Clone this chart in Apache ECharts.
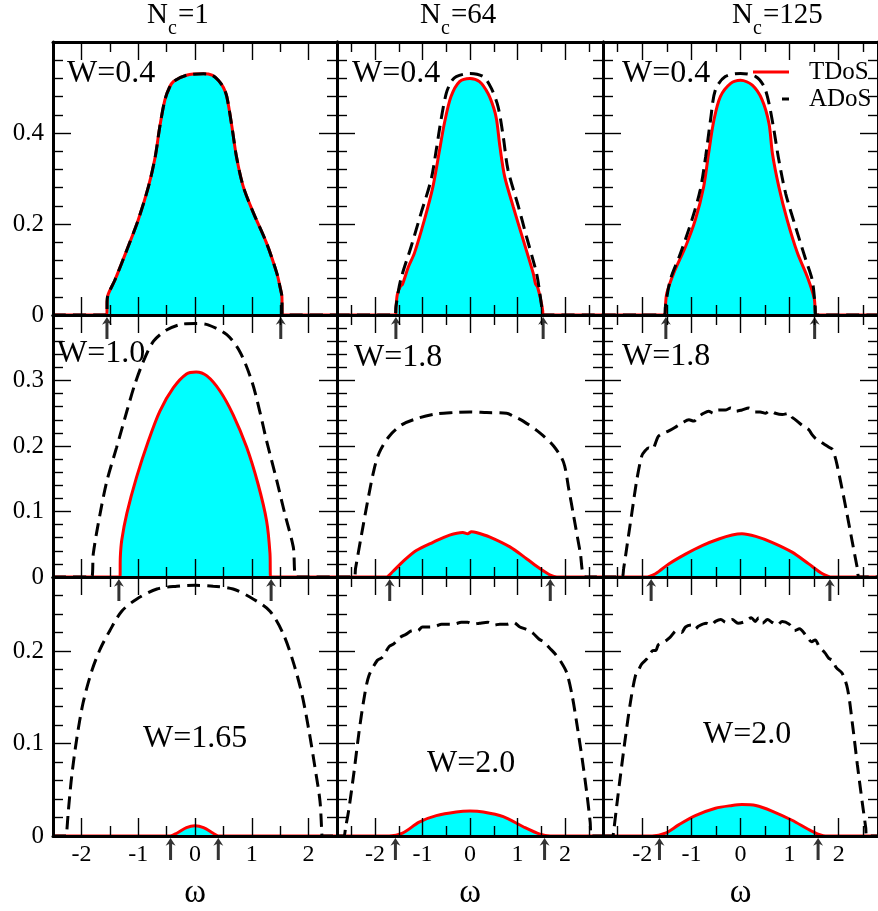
<!DOCTYPE html>
<html><head><meta charset="utf-8">
<script src="https://cdn.jsdelivr.net/npm/echarts@6/dist/echarts.min.js"></script>
<style>html,body{margin:0;padding:0;background:#fff}#c{width:878px;height:911px}</style>
</head><body><div id="c"></div>
<script>
// ---------- DATA ----------
const columnTitles = ['1', '64', '125'];          // N_c values
const disorderLabels = [['W=0.4','W=0.4','W=0.4'],['W=1.0','W=1.8','W=1.8'],['W=1.65','W=2.0','W=2.0']];

const xMajorTicks = [-2, -1, 0, 1, 2];
const xMinorTicks = [-2.5, -1.5, -0.5, 0.5, 1.5, 2.5];
const xTickLabels = [-2, -1, 0, 1, 2];

const yMajorRow1 = [0.2, 0.4];
const yMinorRow1 = [0.04, 0.08, 0.12, 0.16, 0.24, 0.28, 0.32, 0.36, 0.44, 0.48, 0.52, 0.56];
const yLabelsRow1 = [0, 0.2, 0.4];
const yMajorRow2 = [0.1, 0.2, 0.3];
const yMinorRow2 = [0.02,0.04,0.06,0.08,0.12,0.14,0.16,0.18,0.22,0.24,0.26,0.28,0.32,0.34,0.36,0.38];
const yLabelsRow2 = [0, 0.1, 0.2, 0.3];
const yMajorRow3 = [0.1, 0.2];
const yMinorRow3 = [0.02,0.04,0.06,0.08,0.12,0.14,0.16,0.18,0.22,0.24,0.26];
const yLabelsRow3 = [0, 0.1, 0.2];

// mobility edges (arrows)
const edgesRow1 = [[-1.55, 1.51], [-1.56, 1.54], [-1.52, 1.51]];
const edgesRow2 = [[-1.34, 1.34], [-1.69, 1.69], [-1.82, 1.82]];
const edgesRow3 = [[-0.43, 0.41], [-1.57, 1.57], [-1.65, 1.58]];

// typical DoS (red, filled)
const tdos_r1c1 = [[-2.5,0],[-1.55,0],[-1.548,0.03],[-1.53,0.045],[-1.41,0.077],[-1.20,0.143],[-1.00,0.209],[-0.82,0.282],[-0.70,0.348],[-0.62,0.414],[-0.53,0.473],[-0.45,0.50],[-0.38,0.513],[-0.15,0.527],[0.15,0.53],[0.30,0.527],[0.41,0.516],[0.50,0.50],[0.56,0.48],[0.65,0.414],[0.73,0.348],[0.85,0.282],[1.03,0.224],[1.26,0.158],[1.44,0.092],[1.50,0.06],[1.53,0.04],[1.535,0],[2.5,0]];
const ados_r1c1 = tdos_r1c1;
const tdos_r1c2 = [[-2.8,0],[-1.56,0],[-1.555,0.02],[-1.53,0.045],[-1.47,0.062],[-1.42,0.068],[-1.30,0.105],[-1.17,0.136],[-0.96,0.209],[-0.78,0.282],[-0.64,0.363],[-0.54,0.421],[-0.40,0.480],[-0.22,0.513],[0,0.520],[0.20,0.513],[0.38,0.487],[0.50,0.455],[0.56,0.429],[0.63,0.37],[0.73,0.304],[0.91,0.238],[1.12,0.165],[1.33,0.092],[1.38,0.068],[1.42,0.062],[1.49,0.033],[1.53,0.01],[1.535,0],[2.8,0]];
const ados_r1c2 = [[-2.8,0],[-1.58,0],[-1.56,0.018],[-1.46,0.077],[-1.24,0.150],[-1.03,0.224],[-0.82,0.297],[-0.71,0.363],[-0.61,0.429],[-0.50,0.487],[-0.40,0.512],[-0.29,0.524],[0,0.531],[0.28,0.524],[0.45,0.498],[0.59,0.458],[0.70,0.392],[0.80,0.319],[1.02,0.238],[1.19,0.172],[1.40,0.092],[1.47,0.048],[1.52,0.01],[1.54,0],[2.8,0]];
const tdos_r1c3 = [[-2.8,0],[-1.53,0],[-1.525,0.025],[-1.50,0.048],[-1.36,0.092],[-1.12,0.150],[-0.92,0.209],[-0.75,0.282],[-0.65,0.355],[-0.54,0.429],[-0.41,0.480],[-0.20,0.509],[0,0.516],[0.24,0.505],[0.44,0.473],[0.58,0.421],[0.65,0.355],[0.78,0.282],[0.95,0.209],[1.16,0.136],[1.36,0.084],[1.50,0.037],[1.52,0.01],[1.525,0],[2.8,0]];
const ados_r1c3 = [[-2.8,0],[-1.55,0],[-1.53,0.018],[-1.43,0.077],[-1.22,0.136],[-0.99,0.209],[-0.82,0.275],[-0.71,0.348],[-0.61,0.429],[-0.51,0.495],[-0.31,0.524],[0,0.531],[0.31,0.524],[0.48,0.502],[0.58,0.465],[0.68,0.407],[0.78,0.341],[0.92,0.267],[1.12,0.194],[1.33,0.121],[1.46,0.077],[1.52,0.02],[1.53,0],[2.8,0]];

const tdos_r2c1 = [[-2.5,0],[-1.32,0],[-1.315,0.03],[-1.29,0.056],[-1.20,0.097],[-1.03,0.152],[-0.82,0.208],[-0.62,0.253],[-0.38,0.289],[-0.15,0.310],[0.02,0.313],[0.21,0.307],[0.44,0.284],[0.67,0.248],[0.91,0.198],[1.11,0.142],[1.26,0.086],[1.32,0.036],[1.33,0],[2.5,0]];
const ados_r2c1 = [[-2.5,0],[-1.82,0],[-1.79,0.036],[-1.67,0.097],[-1.55,0.147],[-1.38,0.198],[-1.20,0.253],[-1.06,0.294],[-0.91,0.329],[-0.73,0.360],[-0.50,0.377],[-0.23,0.386],[0,0.387],[0.23,0.385],[0.56,0.370],[0.79,0.344],[1.00,0.299],[1.14,0.253],[1.26,0.208],[1.44,0.147],[1.58,0.097],[1.73,0.046],[1.79,0],[2.5,0]];
const tdos_r2c2 = [[-2.8,0],[-1.77,0],[-1.63,0.008],[-1.42,0.023],[-1.14,0.040],[-0.78,0.053],[-0.43,0.064],[-0.15,0.068],[-0.05,0.066],[0.03,0.069],[0.13,0.068],[0.42,0.061],[0.84,0.046],[1.19,0.028],[1.47,0.013],[1.69,0.003],[1.83,0],[2.8,0]];
const ados_r2c2 = [[-2.8,0],[-2.44,0],[-2.41,0.013],[-2.30,0.058],[-2.16,0.114],[-2.02,0.164],[-1.91,0.190],[-1.70,0.215],[-1.42,0.233],[-1.07,0.243],[-0.71,0.249],[-0.36,0.251],[0,0.252],[0.35,0.251],[0.77,0.250],[0.90,0.246],[1.12,0.238],[1.47,0.220],[1.76,0.200],[1.97,0.175],[2.08,0.134],[2.18,0.094],[2.32,0.038],[2.43,0],[2.8,0]];
const tdos_r2c3 = [[-2.8,0],[-1.94,0],[-1.73,0.005],[-1.46,0.020],[-1.12,0.035],[-0.78,0.048],[-0.44,0.058],[-0.17,0.064],[0.03,0.066],[0.31,0.062],[0.64,0.053],[1.05,0.038],[1.39,0.020],[1.67,0.005],[1.87,0],[2.8,0]];
const ados_r2c3 = [[-2.8,0],[-2.42,0],[-2.38,0.013],[-2.31,0.048],[-2.21,0.099],[-2.11,0.149],[-2.01,0.185],[-1.95,0.192],[-1.87,0.197],[-1.80,0.195],[-1.67,0.215],[-1.55,0.220],[-1.46,0.223],[-1.30,0.230],[-1.19,0.235],[-1.05,0.240],[-0.95,0.238],[-0.85,0.245],[-0.75,0.250],[-0.65,0.253],[-0.55,0.250],[-0.45,0.255],[-0.31,0.255],[-0.20,0.258],[-0.10,0.253],[0.03,0.255],[0.17,0.258],[0.30,0.252],[0.40,0.252],[0.51,0.250],[0.60,0.254],[0.71,0.250],[0.85,0.248],[0.99,0.250],[1.05,0.244],[1.12,0.240],[1.25,0.232],[1.39,0.225],[1.45,0.218],[1.52,0.212],[1.60,0.208],[1.70,0.203],[1.80,0.198],[1.87,0.195],[1.92,0.185],[1.97,0.170],[2.11,0.119],[2.24,0.068],[2.38,0.013],[2.42,0],[2.8,0]];

const tdos_r3c1 = [[-2.5,0],[-0.44,0],[-0.32,0.003],[-0.15,0.009],[0,0.011],[0.15,0.009],[0.32,0.003],[0.41,0],[2.5,0]];
const ados_r3c1 = [[-2.5,0],[-2.27,0],[-2.26,0.003],[-2.23,0.027],[-2.17,0.065],[-2.08,0.106],[-1.97,0.144],[-1.82,0.178],[-1.67,0.202],[-1.50,0.222],[-1.29,0.243],[-1.03,0.256],[-0.67,0.267],[-0.32,0.270],[0,0.271],[0.32,0.270],[0.67,0.267],[1.03,0.256],[1.32,0.243],[1.55,0.219],[1.73,0.188],[1.88,0.154],[2.00,0.116],[2.11,0.075],[2.20,0.038],[2.23,0.007],[2.24,0],[2.5,0]];
const tdos_r3c2 = [[-2.8,0],[-1.70,0],[-1.42,0.003],[-1.07,0.015],[-0.71,0.022],[-0.29,0.026],[0,0.027],[0.28,0.026],[0.70,0.021],[1.12,0.010],[1.47,0.002],[1.69,0],[2.8,0]];
const ados_r3c2 = [[-2.8,0],[-2.66,0],[-2.62,0.009],[-2.55,0.029],[-2.44,0.070],[-2.34,0.111],[-2.23,0.149],[-2.13,0.173],[-1.95,0.190],[-1.85,0.193],[-1.70,0.205],[-1.60,0.208],[-1.49,0.214],[-1.35,0.218],[-1.21,0.222],[-1.10,0.222],[-1.00,0.226],[-0.85,0.226],[-0.71,0.227],[-0.60,0.229],[-0.50,0.229],[-0.35,0.229],[-0.18,0.231],[-0.05,0.231],[0.06,0.229],[0.20,0.230],[0.38,0.231],[0.50,0.228],[0.63,0.229],[0.78,0.229],[0.91,0.231],[1.05,0.226],[1.20,0.223],[1.33,0.219],[1.45,0.213],[1.55,0.210],[1.68,0.203],[1.79,0.197],[1.93,0.187],[2.04,0.176],[2.15,0.152],[2.25,0.121],[2.36,0.084],[2.46,0.046],[2.53,0.015],[2.56,0],[2.8,0]];
const tdos_r3c3 = [[-2.8,0],[-1.80,0],[-1.53,0.003],[-1.26,0.012],[-0.92,0.022],[-0.51,0.030],[-0.17,0.033],[0.03,0.034],[0.31,0.033],[0.64,0.027],[1.05,0.017],[1.46,0.005],[1.73,0],[2.8,0]];
const ados_r3c3 = [[-2.8,0],[-2.60,0],[-2.59,0.002],[-2.52,0.033],[-2.45,0.063],[-2.35,0.104],[-2.24,0.145],[-2.14,0.173],[-2.07,0.180],[-2.01,0.186],[-1.90,0.192],[-1.80,0.200],[-1.72,0.201],[-1.67,0.207],[-1.55,0.210],[-1.43,0.215],[-1.30,0.222],[-1.20,0.220],[-1.12,0.226],[-1.00,0.228],[-0.92,0.224],[-0.85,0.227],[-0.70,0.230],[-0.60,0.228],[-0.51,0.232],[-0.40,0.234],[-0.30,0.231],[-0.17,0.234],[-0.05,0.230],[0.10,0.232],[0.22,0.236],[0.30,0.232],[0.37,0.236],[0.45,0.230],[0.55,0.234],[0.64,0.231],[0.75,0.228],[0.85,0.232],[0.99,0.229],[1.10,0.222],[1.20,0.224],[1.33,0.217],[1.45,0.210],[1.52,0.212],[1.60,0.205],[1.72,0.198],[1.80,0.192],[1.87,0.190],[1.95,0.182],[2.07,0.176],[2.18,0.159],[2.28,0.121],[2.38,0.077],[2.48,0.036],[2.55,0.009],[2.57,0],[2.8,0]];

// ---------- LAYOUT ----------
const FONT = "'Liberation Serif', 'Times New Roman', serif";
const cols = [{left:53,width:284,min:-2.5,max:2.5},{left:337,width:266,min:-2.8,max:2.8},{left:603,width:276,min:-2.8,max:2.8}];
const rows = [
  {top:42,height:273,max:0.6,major:yMajorRow1,minor:yMinorRow1,labels:yLabelsRow1,edges:edgesRow1},
  {top:315,height:262,max:0.4,major:yMajorRow2,minor:yMinorRow2,labels:yLabelsRow2,edges:edgesRow2},
  {top:577,height:273,max:0.28,major:yMajorRow3,minor:yMinorRow3,labels:yLabelsRow3,edges:edgesRow3}
];
const tdosData = [[tdos_r1c1,tdos_r1c2,tdos_r1c3],[tdos_r2c1,tdos_r2c2,tdos_r2c3],[tdos_r3c1,tdos_r3c2,tdos_r3c3]];
const adosData = [[ados_r1c1,ados_r1c2,ados_r1c3],[ados_r2c1,ados_r2c2,ados_r2c3],[ados_r3c1,ados_r3c2,ados_r3c3]];
const wPos = [[[67,74],[352,74],[622,74]],[[57,354],[354,358],[622,357]],[[143,739],[427,764],[703,735]]];

const grids=[], xAxes=[], yAxes=[], series=[], graphics=[];
const MAJ=18, MIN=10;
const tickLine = {color:'#000', width:1.4};
const arrowPath = 'path://M5,0 L10,8.5 L6.5,6.5 L6.5,24 L3.5,24 L3.5,6.5 L0,8.5 Z';

rows.forEach((r, ri) => {
  cols.forEach((c, ci) => {
    const g = grids.length;
    grids.push({left:c.left, top:r.top, width:c.width, height:r.height, show:false});
    const xb = (pos, ticks, len, line, labels, name) => ({
      type:'value', gridIndex:g, position:pos, min:c.min, max:c.max, z:10,
      axisLine:{show:line, onZero:false, lineStyle:{color:'#000', width:3}},
      axisTick:{show:true, inside:true, length:len, customValues:ticks, lineStyle:tickLine},
      axisLabel:labels ? {show:true, customValues:labels, color:'#000', fontSize:24, fontFamily:FONT, margin:7} : {show:false},
      splitLine:{show:false},
      name: name || '', nameLocation:'middle', nameGap:41,
      nameTextStyle:{color:'#000', fontSize:33, fontFamily:FONT}
    });
    const isBottom = ri === 2;
    xAxes.push(xb('bottom', xMajorTicks, MAJ, true, isBottom ? xTickLabels : null, isBottom ? 'ω' : ''));
    xAxes.push(xb('bottom', xMinorTicks, MIN, false, null));
    xAxes.push(xb('top', xMajorTicks, MAJ, true, null));
    xAxes.push(xb('top', xMinorTicks, MIN, false, null));
    const yb = (pos, ticks, len, line, labels) => ({
      type:'value', gridIndex:g, position:pos, min:0, max:r.max, z:10,
      axisLine:{show:line, onZero:false, lineStyle:{color:'#000', width:3}},
      axisTick:{show:true, inside:true, length:len, customValues:ticks, lineStyle:tickLine},
      axisLabel:labels ? {show:true, customValues:labels, color:'#000', fontSize:25, fontFamily:FONT, margin:9} : {show:false},
      splitLine:{show:false}
    });
    yAxes.push(yb('left', r.major, MAJ, true, ci === 0 ? r.labels : null));
    yAxes.push(yb('left', r.minor, MIN, false, null));
    yAxes.push(yb('right', r.major, MAJ, true, null));
    yAxes.push(yb('right', r.minor, MIN, false, null));
    const xi = 4*g, yi = 4*g;
    series.push({
      type:'line', xAxisIndex:xi, yAxisIndex:yi, data:tdosData[ri][ci], showSymbol:false,
      smooth:0.3, z:2,
      lineStyle:{color:'#ff0000', width:3}, areaStyle:{color:'#00ffff', opacity:1}, silent:true
    });
    series.push({
      type:'line', xAxisIndex:xi, yAxisIndex:yi, data:adosData[ri][ci], showSymbol:false,
      smooth:0.3, z:3,
      lineStyle:{color:'#000', width:3, type:[13,7]}, silent:true
    });
    series.push({
      type:'scatter', xAxisIndex:xi, yAxisIndex:yi, clip:false, z:11,
      data:r.edges[ci].map(e => [e, 0]),
      symbol:arrowPath, symbolSize:[10,22], symbolOffset:[0,13], symbolKeepAspect:false,
      itemStyle:{color:'#000'}, silent:true
    });
    const wp = wPos[ri][ci];
    graphics.push({type:'text', x:wp[0], y:wp[1], z:20, style:{text:disorderLabels[ri][ci], font:'32px '+FONT, fill:'#000', verticalAlign:'middle', align:'left'}});
  });
});

// column titles N_c = ...
const titleX = [147, 420, 732];
columnTitles.forEach((t, i) => {
  const x0 = titleX[i];
  graphics.push({type:'text', x:x0, y:15, style:{text:'N', font:'29px '+FONT, fill:'#000', verticalAlign:'middle'}});
  graphics.push({type:'text', x:x0+21, y:29, style:{text:'c', font:'20px '+FONT, fill:'#000', verticalAlign:'middle'}});
  graphics.push({type:'text', x:x0+31, y:15, style:{text:'='+t, font:'29px '+FONT, fill:'#000', verticalAlign:'middle'}});
});

// legend
graphics.push({type:'line', z:20, shape:{x1:753,y1:72,x2:789,y2:72}, style:{stroke:'#ff0000', lineWidth:3}});
graphics.push({type:'text', z:20, x:809, y:72, style:{text:'TDoS', font:'25px '+FONT, fill:'#000', verticalAlign:'middle'}});
graphics.push({type:'line', z:20, shape:{x1:782,y1:99,x2:789,y2:99}, style:{stroke:'#000', lineWidth:3}});
graphics.push({type:'text', z:20, x:809, y:99, style:{text:'ADoS', font:'25px '+FONT, fill:'#000', verticalAlign:'middle'}});

const chart = echarts.init(document.getElementById('c'), null, {renderer:'canvas', width:878, height:911});
chart.setOption({
  animation:false, backgroundColor:'#fff',
  grid:grids, xAxis:xAxes, yAxis:yAxes, series:series, graphic:graphics
});
</script></body></html>
